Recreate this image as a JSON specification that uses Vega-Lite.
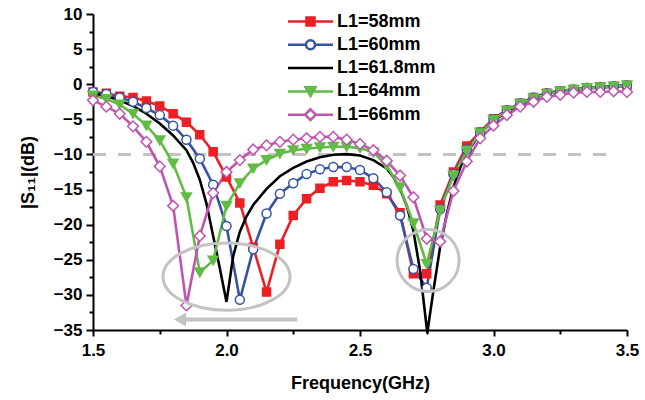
{
  "$schema": "https://vega.github.io/schema/vega-lite/v6.json",
  "width": 534,
  "height": 316,
  "autosize": {"type": "none"},
  "padding": {"left": 93, "top": 14, "right": 18, "bottom": 70},
  "background": "white",
  "config": {"view": {"stroke": null}},
  "datasets": {
    "curves": [
      {"s":"L1=58mm","f":1.5,"db":-1.1},{"s":"L1=58mm","f":1.55,"db":-1.3},{"s":"L1=58mm","f":1.6,"db":-1.7},{"s":"L1=58mm","f":1.65,"db":-1.9},{"s":"L1=58mm","f":1.7,"db":-2.4},{"s":"L1=58mm","f":1.75,"db":-3.1},{"s":"L1=58mm","f":1.8,"db":-4.2},{"s":"L1=58mm","f":1.85,"db":-5.4},{"s":"L1=58mm","f":1.9,"db":-7.2},{"s":"L1=58mm","f":1.95,"db":-9.6},{"s":"L1=58mm","f":2.0,"db":-13.2},{"s":"L1=58mm","f":2.05,"db":-16.9},{"s":"L1=58mm","f":2.1,"db":-23.2},{"s":"L1=58mm","f":2.15,"db":-29.6},{"s":"L1=58mm","f":2.2,"db":-22.8},{"s":"L1=58mm","f":2.25,"db":-18.7},{"s":"L1=58mm","f":2.3,"db":-16.3},{"s":"L1=58mm","f":2.35,"db":-14.8},{"s":"L1=58mm","f":2.4,"db":-13.9},{"s":"L1=58mm","f":2.45,"db":-13.7},{"s":"L1=58mm","f":2.5,"db":-13.9},{"s":"L1=58mm","f":2.55,"db":-14.4},{"s":"L1=58mm","f":2.6,"db":-15.6},{"s":"L1=58mm","f":2.65,"db":-18.3},{"s":"L1=58mm","f":2.7,"db":-27.0},{"s":"L1=58mm","f":2.75,"db":-27.0},{"s":"L1=58mm","f":2.8,"db":-17.2},{"s":"L1=58mm","f":2.85,"db":-12.5},{"s":"L1=58mm","f":2.9,"db":-8.8},{"s":"L1=58mm","f":2.95,"db":-6.8},{"s":"L1=58mm","f":3.0,"db":-4.9},{"s":"L1=58mm","f":3.05,"db":-3.7},{"s":"L1=58mm","f":3.1,"db":-2.7},{"s":"L1=58mm","f":3.15,"db":-1.9},{"s":"L1=58mm","f":3.2,"db":-1.3},{"s":"L1=58mm","f":3.25,"db":-0.95},{"s":"L1=58mm","f":3.3,"db":-0.75},{"s":"L1=58mm","f":3.35,"db":-0.5},{"s":"L1=58mm","f":3.4,"db":-0.4},{"s":"L1=58mm","f":3.45,"db":-0.3},{"s":"L1=58mm","f":3.5,"db":-0.15},
      {"s":"L1=60mm","f":1.5,"db":-1.1},{"s":"L1=60mm","f":1.55,"db":-1.4},{"s":"L1=60mm","f":1.6,"db":-1.9},{"s":"L1=60mm","f":1.65,"db":-2.5},{"s":"L1=60mm","f":1.7,"db":-3.4},{"s":"L1=60mm","f":1.75,"db":-4.4},{"s":"L1=60mm","f":1.8,"db":-5.9},{"s":"L1=60mm","f":1.85,"db":-7.9},{"s":"L1=60mm","f":1.9,"db":-10.6},{"s":"L1=60mm","f":1.95,"db":-14.3},{"s":"L1=60mm","f":2.0,"db":-20.2},{"s":"L1=60mm","f":2.05,"db":-30.7},{"s":"L1=60mm","f":2.1,"db":-23.5},{"s":"L1=60mm","f":2.15,"db":-18.4},{"s":"L1=60mm","f":2.2,"db":-15.6},{"s":"L1=60mm","f":2.25,"db":-14.1},{"s":"L1=60mm","f":2.3,"db":-12.8},{"s":"L1=60mm","f":2.35,"db":-12.1},{"s":"L1=60mm","f":2.4,"db":-11.8},{"s":"L1=60mm","f":2.45,"db":-11.8},{"s":"L1=60mm","f":2.5,"db":-12.2},{"s":"L1=60mm","f":2.55,"db":-13.4},{"s":"L1=60mm","f":2.6,"db":-15.4},{"s":"L1=60mm","f":2.65,"db":-18.7},{"s":"L1=60mm","f":2.7,"db":-26.3},{"s":"L1=60mm","f":2.75,"db":-29.0},{"s":"L1=60mm","f":2.8,"db":-17.8},{"s":"L1=60mm","f":2.85,"db":-12.8},{"s":"L1=60mm","f":2.9,"db":-9.3},{"s":"L1=60mm","f":2.95,"db":-6.9},{"s":"L1=60mm","f":3.0,"db":-5.0},{"s":"L1=60mm","f":3.05,"db":-3.7},{"s":"L1=60mm","f":3.1,"db":-2.7},{"s":"L1=60mm","f":3.15,"db":-1.9},{"s":"L1=60mm","f":3.2,"db":-1.3},{"s":"L1=60mm","f":3.25,"db":-0.95},{"s":"L1=60mm","f":3.3,"db":-0.75},{"s":"L1=60mm","f":3.35,"db":-0.5},{"s":"L1=60mm","f":3.4,"db":-0.4},{"s":"L1=60mm","f":3.45,"db":-0.3},{"s":"L1=60mm","f":3.5,"db":-0.15},
      {"s":"L1=61.8mm","f":1.5,"db":-1.3},{"s":"L1=61.8mm","f":1.55,"db":-1.7},{"s":"L1=61.8mm","f":1.6,"db":-2.3},{"s":"L1=61.8mm","f":1.65,"db":-3.1},{"s":"L1=61.8mm","f":1.7,"db":-4.2},{"s":"L1=61.8mm","f":1.75,"db":-5.6},{"s":"L1=61.8mm","f":1.8,"db":-7.3},{"s":"L1=61.8mm","f":1.85,"db":-9.4},{"s":"L1=61.8mm","f":1.875,"db":-11.2},{"s":"L1=61.8mm","f":1.9,"db":-13.6},{"s":"L1=61.8mm","f":1.925,"db":-17.0},{"s":"L1=61.8mm","f":1.95,"db":-21.6},{"s":"L1=61.8mm","f":1.975,"db":-26.2},{"s":"L1=61.8mm","f":2.0,"db":-31.0},{"s":"L1=61.8mm","f":2.025,"db":-24.5},{"s":"L1=61.8mm","f":2.05,"db":-21.0},{"s":"L1=61.8mm","f":2.075,"db":-18.8},{"s":"L1=61.8mm","f":2.1,"db":-17.2},{"s":"L1=61.8mm","f":2.15,"db":-14.9},{"s":"L1=61.8mm","f":2.2,"db":-13.1},{"s":"L1=61.8mm","f":2.25,"db":-11.9},{"s":"L1=61.8mm","f":2.3,"db":-11.0},{"s":"L1=61.8mm","f":2.35,"db":-10.4},{"s":"L1=61.8mm","f":2.4,"db":-10.05},{"s":"L1=61.8mm","f":2.45,"db":-9.95},{"s":"L1=61.8mm","f":2.5,"db":-10.15},{"s":"L1=61.8mm","f":2.55,"db":-10.8},{"s":"L1=61.8mm","f":2.6,"db":-12.0},{"s":"L1=61.8mm","f":2.625,"db":-13.2},{"s":"L1=61.8mm","f":2.65,"db":-14.9},{"s":"L1=61.8mm","f":2.675,"db":-17.3},{"s":"L1=61.8mm","f":2.7,"db":-20.9},{"s":"L1=61.8mm","f":2.725,"db":-26.5},{"s":"L1=61.8mm","f":2.752,"db":-35.4},{"s":"L1=61.8mm","f":2.775,"db":-29.4},{"s":"L1=61.8mm","f":2.8,"db":-23.2},{"s":"L1=61.8mm","f":2.825,"db":-18.5},{"s":"L1=61.8mm","f":2.85,"db":-14.6},{"s":"L1=61.8mm","f":2.875,"db":-11.9},{"s":"L1=61.8mm","f":2.9,"db":-9.8},{"s":"L1=61.8mm","f":2.95,"db":-7.0},{"s":"L1=61.8mm","f":3.0,"db":-5.2},{"s":"L1=61.8mm","f":3.05,"db":-3.9},{"s":"L1=61.8mm","f":3.1,"db":-2.9},{"s":"L1=61.8mm","f":3.15,"db":-2.0},{"s":"L1=61.8mm","f":3.2,"db":-1.4},{"s":"L1=61.8mm","f":3.25,"db":-1.0},{"s":"L1=61.8mm","f":3.3,"db":-0.8},{"s":"L1=61.8mm","f":3.35,"db":-0.6},{"s":"L1=61.8mm","f":3.4,"db":-0.45},{"s":"L1=61.8mm","f":3.45,"db":-0.35},{"s":"L1=61.8mm","f":3.5,"db":-0.2},
      {"s":"L1=64mm","f":1.5,"db":-1.6},{"s":"L1=64mm","f":1.55,"db":-2.1},{"s":"L1=64mm","f":1.6,"db":-2.9},{"s":"L1=64mm","f":1.65,"db":-4.2},{"s":"L1=64mm","f":1.7,"db":-5.9},{"s":"L1=64mm","f":1.75,"db":-8.0},{"s":"L1=64mm","f":1.8,"db":-11.3},{"s":"L1=64mm","f":1.85,"db":-16.1},{"s":"L1=64mm","f":1.9,"db":-26.8},{"s":"L1=64mm","f":1.95,"db":-25.1},{"s":"L1=64mm","f":2.0,"db":-17.3},{"s":"L1=64mm","f":2.05,"db":-14.1},{"s":"L1=64mm","f":2.1,"db":-12.0},{"s":"L1=64mm","f":2.15,"db":-10.8},{"s":"L1=64mm","f":2.2,"db":-9.9},{"s":"L1=64mm","f":2.25,"db":-9.4},{"s":"L1=64mm","f":2.3,"db":-9.2},{"s":"L1=64mm","f":2.35,"db":-9.0},{"s":"L1=64mm","f":2.4,"db":-8.9},{"s":"L1=64mm","f":2.45,"db":-8.9},{"s":"L1=64mm","f":2.5,"db":-9.1},{"s":"L1=64mm","f":2.55,"db":-9.7},{"s":"L1=64mm","f":2.6,"db":-11.6},{"s":"L1=64mm","f":2.65,"db":-14.7},{"s":"L1=64mm","f":2.7,"db":-19.8},{"s":"L1=64mm","f":2.75,"db":-25.6},{"s":"L1=64mm","f":2.8,"db":-18.0},{"s":"L1=64mm","f":2.85,"db":-13.0},{"s":"L1=64mm","f":2.9,"db":-9.5},{"s":"L1=64mm","f":2.95,"db":-7.0},{"s":"L1=64mm","f":3.0,"db":-5.1},{"s":"L1=64mm","f":3.05,"db":-3.8},{"s":"L1=64mm","f":3.1,"db":-2.8},{"s":"L1=64mm","f":3.15,"db":-2.0},{"s":"L1=64mm","f":3.2,"db":-1.4},{"s":"L1=64mm","f":3.25,"db":-1.0},{"s":"L1=64mm","f":3.3,"db":-0.8},{"s":"L1=64mm","f":3.35,"db":-0.55},{"s":"L1=64mm","f":3.4,"db":-0.45},{"s":"L1=64mm","f":3.45,"db":-0.35},{"s":"L1=64mm","f":3.5,"db":-0.2},
      {"s":"L1=66mm","f":1.5,"db":-2.3},{"s":"L1=66mm","f":1.55,"db":-3.2},{"s":"L1=66mm","f":1.6,"db":-4.2},{"s":"L1=66mm","f":1.65,"db":-6.0},{"s":"L1=66mm","f":1.7,"db":-8.2},{"s":"L1=66mm","f":1.75,"db":-11.7},{"s":"L1=66mm","f":1.8,"db":-17.3},{"s":"L1=66mm","f":1.85,"db":-31.5},{"s":"L1=66mm","f":1.9,"db":-21.6},{"s":"L1=66mm","f":1.95,"db":-15.5},{"s":"L1=66mm","f":2.0,"db":-12.5},{"s":"L1=66mm","f":2.05,"db":-10.8},{"s":"L1=66mm","f":2.1,"db":-9.3},{"s":"L1=66mm","f":2.15,"db":-8.7},{"s":"L1=66mm","f":2.2,"db":-8.2},{"s":"L1=66mm","f":2.25,"db":-7.9},{"s":"L1=66mm","f":2.3,"db":-7.7},{"s":"L1=66mm","f":2.35,"db":-7.5},{"s":"L1=66mm","f":2.4,"db":-7.5},{"s":"L1=66mm","f":2.45,"db":-7.9},{"s":"L1=66mm","f":2.5,"db":-8.5},{"s":"L1=66mm","f":2.55,"db":-9.4},{"s":"L1=66mm","f":2.6,"db":-10.9},{"s":"L1=66mm","f":2.65,"db":-13.0},{"s":"L1=66mm","f":2.7,"db":-16.1},{"s":"L1=66mm","f":2.75,"db":-22.0},{"s":"L1=66mm","f":2.8,"db":-22.4},{"s":"L1=66mm","f":2.85,"db":-15.2},{"s":"L1=66mm","f":2.9,"db":-11.0},{"s":"L1=66mm","f":2.95,"db":-7.7},{"s":"L1=66mm","f":3.0,"db":-5.9},{"s":"L1=66mm","f":3.05,"db":-4.4},{"s":"L1=66mm","f":3.1,"db":-3.2},{"s":"L1=66mm","f":3.15,"db":-2.5},{"s":"L1=66mm","f":3.2,"db":-1.8},{"s":"L1=66mm","f":3.25,"db":-1.5},{"s":"L1=66mm","f":3.3,"db":-1.2},{"s":"L1=66mm","f":3.35,"db":-1.1},{"s":"L1=66mm","f":3.4,"db":-1.1},{"s":"L1=66mm","f":3.45,"db":-1.0},{"s":"L1=66mm","f":3.5,"db":-1.1}
    ]
  },
  "resolve": {"axis": {"x": "independent", "y": "independent"}},
  "layer": [
    {
      "data": {"values": [{"f": 1.5, "f2": 3.45, "db": -10}]},
      "mark": {"type": "rule", "stroke": "#c3c3c3", "strokeWidth": 3, "strokeDash": [13, 12]},
      "encoding": {
        "x": {"field": "f", "type": "quantitative", "scale": {"domain": [1.5, 3.5], "nice": false, "zero": false},
          "axis": {"orient": "bottom", "values": [1.75, 2.25, 2.75, 3.25], "labels": false, "domain": false, "grid": false, "tickSize": 4, "tickWidth": 2, "tickColor": "black", "title": null}},
        "x2": {"field": "f2"},
        "y": {"field": "db", "type": "quantitative", "scale": {"domain": [-35, 10], "nice": false, "zero": false},
          "axis": {"orient": "left", "values": [-32.5, -27.5, -22.5, -17.5, -12.5, -7.5, -2.5, 2.5, 7.5], "labels": false, "domain": false, "grid": false, "tickSize": 4, "tickWidth": 2, "tickColor": "black", "title": null}}
      }
    },
    {
      "data": {"name": "curves"},
      "mark": {"type": "line", "strokeWidth": 2.6},
      "encoding": {
        "x": {"field": "f", "type": "quantitative", "scale": {"domain": [1.5, 3.5], "nice": false, "zero": false},
          "axis": {"orient": "bottom", "values": [1.5, 2, 2.5, 3, 3.5], "format": ".1f", "title": "Frequency(GHz)", "grid": false, "domainColor": "black", "domainWidth": 2, "tickColor": "black", "tickWidth": 2, "tickSize": 6, "labelFont": "Liberation Sans", "labelFontWeight": "bold", "labelFontSize": 17, "labelColor": "black", "labelPadding": 6, "labelFlush": false, "labelOverlap": false, "titleFont": "Liberation Sans", "titleFontWeight": "bold", "titleFontSize": 18, "titleColor": "black", "titlePadding": 16}},
        "y": {"field": "db", "type": "quantitative", "scale": {"domain": [-35, 10], "nice": false, "zero": false},
          "axis": {"orient": "left", "values": [-35, -30, -25, -20, -15, -10, -5, 0, 5, 10], "format": "d", "title": "|S₁₁|(dB)", "grid": false, "domainColor": "black", "domainWidth": 2, "tickColor": "black", "tickWidth": 2, "tickSize": 7, "labelFont": "Liberation Sans", "labelFontWeight": "bold", "labelFontSize": 17, "labelColor": "black", "labelPadding": 4, "labelFlush": false, "labelOverlap": false, "titleFont": "Liberation Sans", "titleFontWeight": "bold", "titleFontSize": 18, "titleColor": "black", "titlePadding": 16}},
        "color": {"field": "s", "type": "nominal", "legend": null,
          "scale": {"domain": ["L1=66mm", "L1=64mm", "L1=61.8mm", "L1=60mm", "L1=58mm"], "range": ["#c055b0", "#62bb46", "#000000", "#3653a4", "#ee1f24"]}}
      }
    },
    {
      "data": {"name": "curves"},
      "transform": [{"filter": "datum.s !== 'L1=61.8mm'"}],
      "mark": {"type": "point", "strokeWidth": 1.5, "opacity": 1, "filled": false},
      "encoding": {
        "x": {"field": "f", "type": "quantitative", "axis": null},
        "y": {"field": "db", "type": "quantitative", "axis": null},
        "color": {"field": "s", "type": "nominal", "legend": null},
        "fill": {"condition": [
          {"test": "datum.s === 'L1=58mm'", "value": "#ee1f24"},
          {"test": "datum.s === 'L1=64mm'", "value": "#62bb46"}], "value": "#ffffff"},
        "shape": {"condition": [
          {"test": "datum.s === 'L1=58mm'", "value": "square"},
          {"test": "datum.s === 'L1=60mm'", "value": "circle"},
          {"test": "datum.s === 'L1=64mm'", "value": "triangle-down"}], "value": "diamond"},
        "size": {"condition": [
          {"test": "datum.s === 'L1=58mm'", "value": 64},
          {"test": "datum.s === 'L1=60mm'", "value": 81},
          {"test": "datum.s === 'L1=64mm'", "value": 100}], "value": 115}
      }
    },
    {
      "data": {"values": [{"f": 2.0, "db": -27.4}]},
      "mark": {"type": "point", "shape": "M-1,0A1,0.53,0,1,1,1,0A1,0.53,0,1,1,-1,0Z", "size": 16129, "stroke": "#c3c3c3", "strokeWidth": 3, "filled": false, "opacity": 1},
      "encoding": {"x": {"field": "f", "type": "quantitative", "axis": null}, "y": {"field": "db", "type": "quantitative", "axis": null}}
    },
    {
      "data": {"values": [{"f": 2.755, "db": -25.1}]},
      "mark": {"type": "point", "shape": "circle", "size": 3844, "stroke": "#c3c3c3", "strokeWidth": 3, "filled": false, "opacity": 1},
      "encoding": {"x": {"field": "f", "type": "quantitative", "axis": null}, "y": {"field": "db", "type": "quantitative", "axis": null}}
    },
    {
      "data": {"values": [{"f": 1.84, "f2": 2.265, "db": -33.5}]},
      "mark": {"type": "rule", "stroke": "#c3c3c3", "strokeWidth": 4},
      "encoding": {"x": {"field": "f", "type": "quantitative", "axis": null}, "x2": {"field": "f2"}, "y": {"field": "db", "type": "quantitative", "axis": null}}
    },
    {
      "data": {"values": [{"f": 1.826, "db": -33.5}]},
      "mark": {"type": "point", "shape": "triangle-left", "size": 196, "fill": "#c3c3c3", "filled": true, "opacity": 1},
      "encoding": {"x": {"field": "f", "type": "quantitative", "axis": null}, "y": {"field": "db", "type": "quantitative", "axis": null}}
    },
    {
      "data": {"name": "curves"},
      "transform": [{"filter": "datum.f === 1.5"}],
      "mark": {"type": "point", "opacity": 0, "strokeWidth": 2.5},
      "encoding": {
        "x": {"field": "f", "type": "quantitative", "axis": null},
        "y": {"field": "db", "type": "quantitative", "axis": null},
        "stroke": {"field": "s", "type": "nominal",
          "scale": {"domain": ["L1=58mm", "L1=60mm", "L1=61.8mm", "L1=64mm", "L1=66mm"], "range": ["#ee1f24", "#3653a4", "#000000", "#62bb46", "#c055b0"]},
          "legend": {"title": null, "orient": "none", "legendX": 207, "legendY": -3, "padding": 0, "labelFont": "Liberation Sans", "labelFontWeight": "bold", "labelFontSize": 18, "labelColor": "black", "symbolSize": 324, "symbolOpacity": 1, "symbolStrokeWidth": 2.5, "rowPadding": 3.3, "labelOffset": 16, "labelLimit": 0}},
        "fill": {"field": "s", "type": "nominal",
          "scale": {"domain": ["L1=58mm", "L1=60mm", "L1=61.8mm", "L1=64mm", "L1=66mm"], "range": ["#ee1f24", "#ffffff", "transparent", "#62bb46", "#ffffff"]},
          "legend": {"title": null, "orient": "none", "legendX": 207, "legendY": -3, "padding": 0, "labelFont": "Liberation Sans", "labelFontWeight": "bold", "labelFontSize": 18, "labelColor": "black", "symbolSize": 324, "symbolOpacity": 1, "symbolStrokeWidth": 2.5, "rowPadding": 3.3, "labelOffset": 16, "labelLimit": 0}},
        "shape": {"field": "s", "type": "nominal",
          "scale": {"domain": ["L1=58mm", "L1=60mm", "L1=61.8mm", "L1=64mm", "L1=66mm"],
            "range": ["M-2.5,0L2.5,0M-0.45,-0.45L0.45,-0.45L0.45,0.45L-0.45,0.45Z", "M-2.5,0L-0.5,0M0.5,0L2.5,0M-0.5,0A0.5,0.5,0,1,1,0.5,0A0.5,0.5,0,1,1,-0.5,0Z", "M-2.5,0L2.5,0", "M-2.5,0L2.5,0M-0.55,-0.45L0.55,-0.45L0,0.5Z", "M-2.5,0L-0.6,0M0.6,0L2.5,0M-0.6,0L0,-0.6L0.6,0L0,0.6Z"]},
          "legend": {"title": null, "orient": "none", "legendX": 207, "legendY": -3, "padding": 0, "labelFont": "Liberation Sans", "labelFontWeight": "bold", "labelFontSize": 18, "labelColor": "black", "symbolSize": 324, "symbolOpacity": 1, "symbolStrokeWidth": 2.5, "rowPadding": 3.3, "labelOffset": 16, "labelLimit": 0}}
      }
    }
  ]
}
